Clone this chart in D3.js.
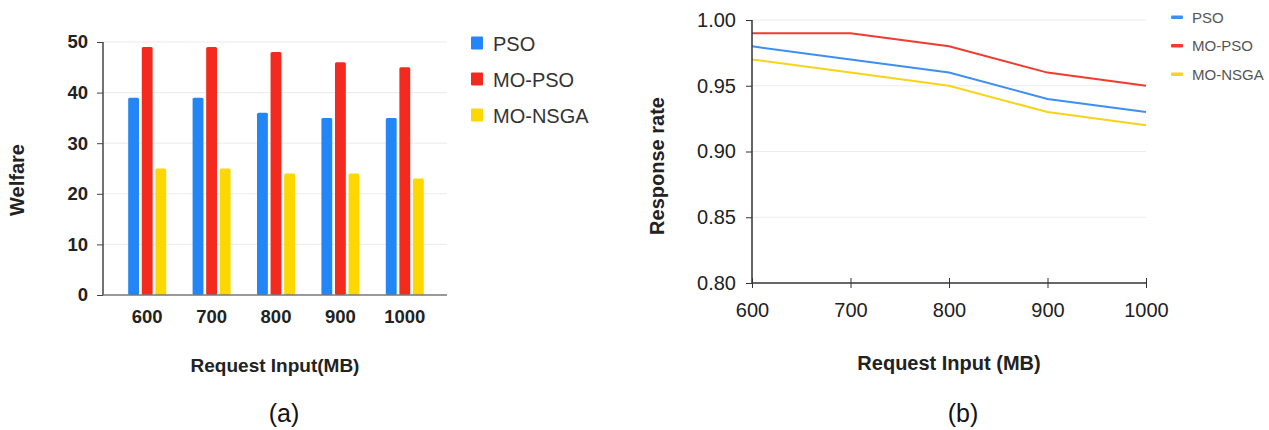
<!DOCTYPE html>
<html>
<head>
<meta charset="utf-8">
<script src="https://cdn.jsdelivr.net/npm/d3@7/dist/d3.min.js"></script>
<style>
  body { margin: 0; background: #fff; }
  svg { display: block; }
  text { font-family: "Liberation Sans", Arial, sans-serif; }
</style>
</head>
<body>
<div class="chart"></div>
<script>
const series = ["PSO", "MO-PSO", "MO-NSGA"]
const inputs = [600, 700, 800, 900, 1000]

// (a) welfare
const welfarePSO = [39, 39, 36, 35, 35]
const welfareMOPSO = [49, 49, 48, 46, 45]
const welfareNSGA = [25, 25, 24, 24, 23]
const welfareTicks = [0, 10, 20, 30, 40, 50]

// (b) response rate
const ratePSO = [0.98, 0.97, 0.96, 0.94, 0.93]
const rateMOPSO = [0.99, 0.99, 0.98, 0.96, 0.95]
const rateNSGA = [0.97, 0.96, 0.95, 0.93, 0.92]
const rateTicks = [0.80, 0.85, 0.90, 0.95, 1.00]

const barColors = ["#2286f7", "#f42a1e", "#fdd800"]
const lineColors = ["#3d8ff2", "#f23b30", "#f8d31a"]

const svg = d3.select(".chart").append("svg")
    .attr("width", 1269)
    .attr("height", 430)

// ---------- chart (a) ----------
const a = svg.append("g")
const aLeft = 103, aRight = 447, aTop = 42, aBottom = 295

const yA = d3.scaleLinear().domain([0, 50]).range([aBottom, aTop])
const xA = d3.scaleBand().domain(inputs).range([115, 437])
const xSub = d3.scaleBand().domain(series).range([0, 38]).paddingInner(0.2)

a.append("g")
    .selectAll("line")
    .data(welfareTicks.slice(1))
    .join("line")
    .attr("x1", aLeft).attr("x2", aRight)
    .attr("y1", d => yA(d)).attr("y2", d => yA(d))
    .attr("stroke", "#ebebeb")

const welfareRows = inputs.map((v, i) => ({ input: v, vals: [welfarePSO[i], welfareMOPSO[i], welfareNSGA[i]] }))

const groups = a.selectAll(".grp")
    .data(welfareRows)
    .join("g")
    .attr("class", "grp")
    .attr("transform", d => "translate(" + (xA(d.input) + xA.bandwidth() / 2 - 19) + ",0)")

groups.selectAll("rect")
    .data(d => d.vals.map((v, j) => ({ s: series[j], v: v, j: j })))
    .join("rect")
    .attr("x", d => xSub(d.s))
    .attr("width", xSub.bandwidth())
    .attr("y", d => yA(d.v))
    .attr("height", d => yA(0) - yA(d.v))
    .attr("rx", 1.5)
    .attr("fill", d => barColors[d.j])

// y axis
const yAxisA = a.append("g")
    .attr("transform", "translate(" + aLeft + ",0)")
    .call(d3.axisLeft(yA).tickValues(welfareTicks).tickSize(6).tickPadding(9))
yAxisA.select(".domain").attr("stroke", "#444").attr("stroke-width", 1.5).attr("d", "M0," + aTop + "V" + aBottom)
yAxisA.selectAll(".tick line").attr("stroke", "#444")
yAxisA.selectAll("text")
    .attr("font-size", 18.5).attr("font-weight", "bold").attr("fill", "#222")
    .attr("font-family", "Liberation Sans, Arial, sans-serif")

// x baseline
a.append("line")
    .attr("x1", aLeft).attr("x2", aRight)
    .attr("y1", aBottom).attr("y2", aBottom)
    .attr("stroke", "#777").attr("stroke-width", 1.5)

a.selectAll(".xlab")
    .data(inputs)
    .join("text")
    .attr("class", "xlab")
    .attr("x", d => xA(d) + xA.bandwidth() / 2)
    .attr("y", 323)
    .attr("text-anchor", "middle")
    .attr("font-size", 18.5).attr("font-weight", "bold").attr("fill", "#222")
    .text(d => d)

a.append("text")
    .attr("transform", "translate(24,180) rotate(-90)")
    .attr("text-anchor", "middle")
    .attr("font-size", 20).attr("font-weight", "bold").attr("fill", "#222")
    .text("Welfare")

a.append("text")
    .attr("x", 275).attr("y", 372)
    .attr("text-anchor", "middle")
    .attr("font-size", 19).attr("font-weight", "bold").attr("fill", "#222")
    .text("Request Input(MB)")

const legA = a.selectAll(".lega")
    .data(series)
    .join("g")
    .attr("class", "lega")
    .attr("transform", (d, i) => "translate(471," + (43 + i * 36) + ")")
legA.append("rect")
    .attr("x", 0).attr("y", -6.5).attr("width", 12).attr("height", 13).attr("rx", 1)
    .attr("fill", (d, i) => barColors[i])
legA.append("text")
    .attr("x", 22).attr("y", 7.5)
    .attr("font-size", 20).attr("fill", "#333")
    .text(d => d)

// ---------- chart (b) ----------
const b = svg.append("g")
const bLeft = 752, bRight = 1146, bTop = 20, bBottom = 283

const xB = d3.scaleLinear().domain([600, 1000]).range([bLeft, bRight])
const yB = d3.scaleLinear().domain([0.8, 1.0]).range([bBottom, bTop])

b.append("g")
    .selectAll("line")
    .data(rateTicks.slice(1))
    .join("line")
    .attr("x1", bLeft).attr("x2", bRight)
    .attr("y1", d => yB(d)).attr("y2", d => yB(d))
    .attr("stroke", "#ececec")

const rateSeries = [ratePSO, rateMOPSO, rateNSGA]
const line = d3.line()
    .x((d, i) => xB(inputs[i]))
    .y(d => yB(d))

b.selectAll(".ln")
    .data(rateSeries)
    .join("path")
    .attr("class", "ln")
    .attr("d", line)
    .attr("fill", "none")
    .attr("stroke", (d, i) => lineColors[i])
    .attr("stroke-width", 2)

const yAxisB = b.append("g")
    .attr("transform", "translate(" + bLeft + ",0)")
    .call(d3.axisLeft(yB).tickValues(rateTicks).tickFormat(d3.format(".2f")).tickSize(6).tickPadding(10))
yAxisB.select(".domain").attr("stroke", "#333").attr("stroke-width", 1.5).attr("d", "M0," + bTop + "V" + bBottom)
yAxisB.selectAll(".tick line").attr("stroke", "#333")
yAxisB.selectAll("text")
    .attr("font-size", 20).attr("fill", "#222")
    .attr("font-family", "Liberation Sans, Arial, sans-serif")

const xAxisB = b.append("g")
    .attr("transform", "translate(0," + bBottom + ")")
    .call(d3.axisBottom(xB).tickValues(inputs).tickFormat(d3.format("d")).tickSize(5).tickPadding(15))
xAxisB.select(".domain").attr("stroke", "#333").attr("stroke-width", 1.5).attr("d", "M" + bLeft + ",0H" + bRight)
xAxisB.selectAll(".tick line").attr("stroke", "#333").attr("y1", -5).attr("y2", 5)
xAxisB.selectAll("text")
    .attr("font-size", 20).attr("fill", "#222")
    .attr("font-family", "Liberation Sans, Arial, sans-serif")

b.append("text")
    .attr("transform", "translate(664,166) rotate(-90)")
    .attr("text-anchor", "middle")
    .attr("font-size", 20).attr("font-weight", "bold").attr("fill", "#222")
    .text("Response rate")

b.append("text")
    .attr("x", 949).attr("y", 370)
    .attr("text-anchor", "middle")
    .attr("font-size", 20).attr("font-weight", "bold").attr("fill", "#222")
    .text("Request Input (MB)")

const legB = b.selectAll(".legb")
    .data(series)
    .join("g")
    .attr("class", "legb")
    .attr("transform", (d, i) => "translate(1171," + (17 + i * 28.5) + ")")
legB.append("rect")
    .attr("x", 0).attr("y", -1.5).attr("width", 12).attr("height", 3.5).attr("rx", 1)
    .attr("fill", (d, i) => lineColors[i])
legB.append("text")
    .attr("x", 21).attr("y", 5.5)
    .attr("font-size", 15).attr("fill", "#555")
    .text(d => d)

// captions
svg.append("text")
    .attr("x", 284).attr("y", 422)
    .attr("text-anchor", "middle")
    .attr("font-family", "Lato, 'Open Sans', sans-serif")
    .attr("font-size", 25).attr("fill", "#111")
    .text("(a)")
svg.append("text")
    .attr("x", 963).attr("y", 422)
    .attr("text-anchor", "middle")
    .attr("font-family", "Lato, 'Open Sans', sans-serif")
    .attr("font-size", 25).attr("fill", "#111")
    .text("(b)")
</script>
</body>
</html>
